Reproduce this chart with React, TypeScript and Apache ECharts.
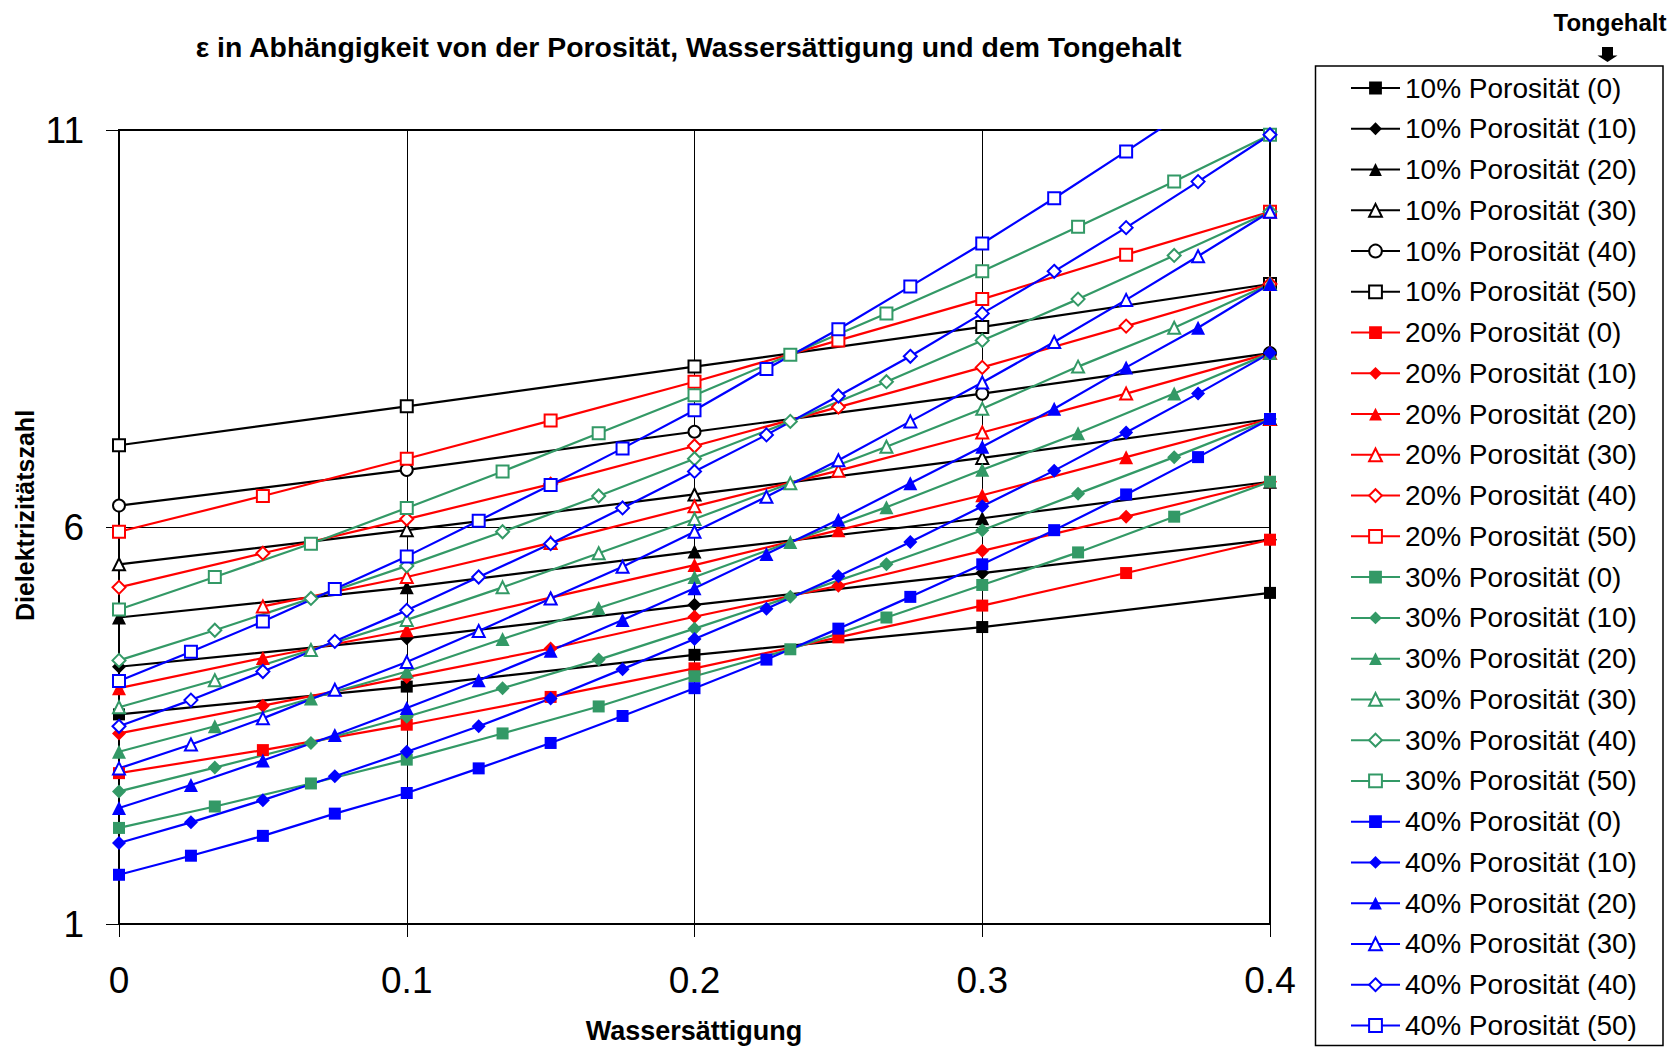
import React, { useEffect, useRef } from "react";
import * as echarts from "echarts";

// ---- Data ----
const POROSITIES = [10, 20, 30, 40];
const TONGEHALT = [0, 10, 20, 30, 40, 50];

const X10 = [0, 0.1, 0.2, 0.3, 0.4];
const X20 = [0, 0.05, 0.1, 0.15, 0.2, 0.25, 0.3, 0.35, 0.4];
const X30 = [0, 0.0333, 0.0667, 0.1, 0.1333, 0.1667, 0.2, 0.2333, 0.2667, 0.3, 0.3333, 0.3667, 0.4];
const X40 = [0, 0.025, 0.05, 0.075, 0.1, 0.125, 0.15, 0.175, 0.2, 0.225, 0.25, 0.275, 0.3, 0.325, 0.35, 0.375, 0.4];

// 10% Porosität, Tongehalt 0..50
const P10_T0 = [3.64, 3.99, 4.39, 4.74, 5.17];
const P10_T10 = [4.24, 4.6, 5.02, 5.42, 5.84];
const P10_T20 = [4.86, 5.24, 5.69, 6.11, 6.57];
const P10_T30 = [5.53, 5.96, 6.41, 6.87, 7.36];
const P10_T40 = [6.27, 6.72, 7.2, 7.68, 8.19];
const P10_T50 = [7.03, 7.52, 8.02, 8.52, 9.06];

// 20% Porosität
const P20_T0 = [2.9, 3.19, 3.51, 3.86, 4.22, 4.61, 5.01, 5.42, 5.84];
const P20_T10 = [3.4, 3.75, 4.11, 4.47, 4.87, 5.26, 5.7, 6.13, 6.57];
const P20_T20 = [3.97, 4.35, 4.7, 5.11, 5.52, 5.96, 6.4, 6.88, 7.36];
const P20_T30 = [null, 5.0, 5.37, 5.8, 6.26, 6.71, 7.19, 7.68, 8.19];
const P20_T40 = [5.24, 5.67, 6.1, 6.54, 7.02, 7.51, 8.01, 8.53, 9.06];
const P20_T50 = [5.94, 6.39, 6.86, 7.34, 7.83, 8.35, 8.87, 9.43, 9.97];

// 30% Porosität
const P30_T0 = [2.21, 2.48, 2.77, 3.07, 3.4, 3.74, 4.12, 4.46, 4.86, 5.27, 5.68, 6.13, 6.57];
const P30_T10 = [2.67, 2.97, 3.28, 3.61, 3.97, 4.33, 4.72, 5.12, 5.53, 5.96, 6.42, 6.88, 7.36];
const P30_T20 = [3.17, 3.49, 3.84, 4.18, 4.59, 4.98, 5.37, 5.81, 6.25, 6.72, 7.18, 7.68, 8.19];
const P30_T30 = [3.73, 4.07, 4.45, 4.83, 5.24, 5.67, 6.1, 6.55, 7.01, 7.49, 8.02, 8.51, 9.06];
const P30_T40 = [4.32, 4.7, 5.1, 5.51, 5.94, 6.39, 6.86, 7.33, 7.83, 8.35, 8.87, 9.42, 9.97];
const P30_T50 = [4.96, 5.37, 5.79, 6.24, 6.7, 7.18, 7.66, 8.17, 8.69, 9.22, 9.78, 10.35, 10.94];

// 40% Porosität
const P40_T0 = [1.62, 1.86, 2.11, 2.39, 2.65, 2.96, 3.28, 3.62, 3.97, 4.33, 4.72, 5.12, 5.53, 5.96, 6.41, 6.88, 7.36];
const P40_T10 = [2.02, 2.28, 2.56, 2.86, 3.17, 3.49, 3.84, 4.21, 4.59, 4.97, 5.38, 5.81, 6.26, 6.71, 7.19, 7.68, 8.19];
const P40_T20 = [2.46, 2.75, 3.06, 3.38, 3.72, 4.07, 4.44, 4.83, 5.23, 5.66, 6.09, 6.55, 7.01, 7.49, 8.01, 8.51, 9.06];
const P40_T30 = [2.96, 3.26, 3.59, 3.95, 4.3, 4.69, 5.1, 5.5, 5.94, 6.38, 6.84, 7.33, 7.82, 8.33, 8.86, 9.41, 9.97];
const P40_T40 = [3.49, 3.82, 4.18, 4.56, 4.95, 5.37, 5.79, 6.24, 6.7, 7.16, 7.65, 8.15, 8.69, 9.22, 9.77, 10.35, 10.94];
const P40_T50 = [4.06, 4.43, 4.81, 5.22, 5.63, 6.08, 6.53, 6.99, 7.47, 7.99, 8.49, 9.03, 9.57, 10.14, 10.73, 11.33, 11.95];

const X_BY_POROSITY = [X10, X20, X30, X40];
const Y_BY_POROSITY = [
  [P10_T0, P10_T10, P10_T20, P10_T30, P10_T40, P10_T50],
  [P20_T0, P20_T10, P20_T20, P20_T30, P20_T40, P20_T50],
  [P30_T0, P30_T10, P30_T20, P30_T30, P30_T40, P30_T50],
  [P40_T0, P40_T10, P40_T20, P40_T30, P40_T40, P40_T50],
];

const X_TICKS = [0, 0.1, 0.2, 0.3, 0.4];
const Y_TICKS = [1, 6, 11];

// ---- Styles ----
const COLORS = ["#000000", "#FF0000", "#339966", "#0000FF"];
const SYMBOLS_10 = ["rect", "diamond", "triangle", "emptyTriangle", "emptyCircle", "emptyRect"];
const SYMBOLS_OTHER = ["rect", "diamond", "triangle", "emptyTriangle", "emptyDiamond", "emptyRect"];
const SYMBOL_SIZE: Record<string, number> = {
  rect: 12,
  diamond: 14,
  triangle: 14,
  emptyTriangle: 12,
  emptyCircle: 12,
  emptyRect: 12,
  emptyDiamond: 13,
};
const FONT = "'Liberation Sans', Arial, sans-serif";

export default function App() {
  const ref = useRef<HTMLDivElement>(null);

  useEffect(() => {
    if (!ref.current) return;
    const chart = echarts.init(ref.current, undefined, { renderer: "svg" });

    const series: any[] = [];
    const names: string[] = [];
    POROSITIES.forEach((p, pi) => {
      TONGEHALT.forEach((t, ti) => {
        const name = `${p}% Porosität (${t})`;
        names.push(name);
        const xs = X_BY_POROSITY[pi];
        const ys = Y_BY_POROSITY[pi][ti];
        const data = xs
          .map((x, i) => [x, ys[i]])
          .filter((d) => d[1] !== null && d[1] !== undefined);
        const sym = (pi === 0 ? SYMBOLS_10 : SYMBOLS_OTHER)[ti];
        const empty = sym.startsWith("empty");
        series.push({
          name,
          type: "line",
          data,
          symbol: sym,
          symbolSize: SYMBOL_SIZE[sym],
          showAllSymbol: true,
          clip: true,
          lineStyle: { color: COLORS[pi], width: 2.2 },
          itemStyle: empty
            ? { color: COLORS[pi], borderColor: COLORS[pi], borderWidth: 2 }
            : { color: COLORS[pi], borderWidth: 0 },
          emphasis: { disabled: true },
        });
      });
    });

    chart.setOption({
      animation: false,
      backgroundColor: "#ffffff",
      textStyle: { fontFamily: FONT },
      grid: {
        left: 119,
        top: 130,
        right: 1675 - 1270,
        bottom: 1047 - 924,
        show: true,
        borderColor: "#000",
        borderWidth: 2,
        backgroundColor: "transparent",
      },
      xAxis: {
        type: "value",
        min: X_TICKS[0],
        max: X_TICKS[X_TICKS.length - 1],
        interval: 0.1,
        axisLine: { show: true, lineStyle: { color: "#000", width: 2 } },
        axisTick: { show: true, inside: false, length: 13, lineStyle: { color: "#000", width: 1 } },
        splitLine: { show: true, lineStyle: { color: "#000", width: 1 } },
        axisLabel: {
          fontSize: 37,
          color: "#000",
          fontFamily: FONT,
          margin: 38,
          formatter: (v: number) => String(+v.toFixed(1)),
        },
      },
      yAxis: {
        type: "value",
        min: Y_TICKS[0],
        max: Y_TICKS[Y_TICKS.length - 1],
        interval: 5,
        axisLine: { show: true, lineStyle: { color: "#000", width: 2 } },
        axisTick: { show: true, inside: false, length: 13, lineStyle: { color: "#000", width: 1 } },
        splitLine: { show: true, lineStyle: { color: "#000", width: 1 } },
        axisLabel: { fontSize: 37, color: "#000", fontFamily: FONT, margin: 35 },
      },
      legend: {
        orient: "vertical",
        left: 1345,
        top: 68,
        height: 990,
        itemWidth: 49,
        itemHeight: 16,
        itemGap: 10.76,
        selectedMode: false,
        textStyle: { fontSize: 28, lineHeight: 30, color: "#000", fontFamily: FONT },
        data: names,
      },
      graphic: [
        {
          type: "rect",
          shape: { x: 1315.5, y: 66, width: 347.5, height: 979.5 },
          style: { fill: "transparent", stroke: "#000", lineWidth: 1.5 },
          z: 0,
        },
        {
          type: "text",
          x: 688.5,
          y: 47,
          style: {
            text: "ε in Abhängigkeit von der Porosität, Wassersättigung und dem Tongehalt",
            fontSize: 28.4,
            fontWeight: "bold",
            fontFamily: FONT,
            fill: "#000",
            textAlign: "center",
            textVerticalAlign: "middle",
          },
        },
        {
          type: "text",
          x: 25,
          y: 515.5,
          rotation: Math.PI / 2,
          style: {
            text: "Dielektrizitätszahl",
            fontSize: 25,
            fontWeight: "bold",
            fontFamily: FONT,
            fill: "#000",
            textAlign: "center",
            textVerticalAlign: "middle",
          },
        },
        {
          type: "text",
          x: 694,
          y: 1031,
          style: {
            text: "Wassersättigung",
            fontSize: 27,
            fontWeight: "bold",
            fontFamily: FONT,
            fill: "#000",
            textAlign: "center",
            textVerticalAlign: "middle",
          },
        },
        {
          type: "text",
          x: 1610,
          y: 22,
          style: {
            text: "Tongehalt",
            fontSize: 24,
            fontWeight: "bold",
            fontFamily: "'Liberation Sans Narrow', 'Arial Narrow', " + FONT,
            fill: "#000",
            textAlign: "center",
            textVerticalAlign: "middle",
          },
        },
        {
          type: "rect",
          shape: { x: 1602, y: 47, width: 11, height: 9 },
          style: { fill: "#000" },
        },
        {
          type: "polygon",
          shape: { points: [[1597.5, 55.5], [1617.5, 55.5], [1607.5, 62]] },
          style: { fill: "#000" },
        },
      ],
      series,
    });

    return () => chart.dispose();
  }, []);

  return (
    <div
      ref={ref}
      style={{ position: "fixed", left: 0, top: 0, width: 1675, height: 1047, background: "#fff" }}
    />
  );
}
